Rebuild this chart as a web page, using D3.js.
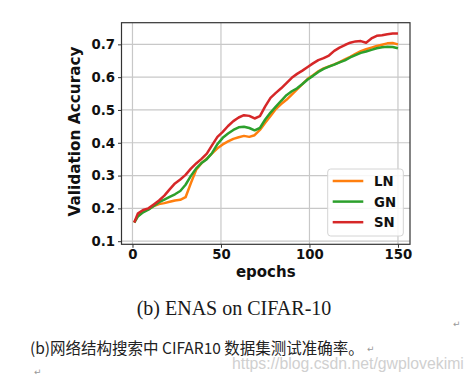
<!DOCTYPE html>
<html>
<head>
<meta charset="utf-8">
<script src="https://cdn.jsdelivr.net/npm/d3@7"></script>
<style>
  body { margin: 0; background: #fff; }
  svg { display: block; }
</style>
</head>
<body>
<script>

  // epochs sampled along the curves
  var epochs = [1, 3, 6, 9, 12, 15, 18, 21, 24, 27, 30, 33, 36, 39, 42, 45, 48, 51, 54, 57,
    60, 63, 66, 69, 72, 75, 78, 81, 84, 87, 90, 93, 96, 99, 102, 105, 108, 111, 114, 117,
    120, 123, 126, 129, 132, 135, 138, 141, 144, 147, 150];

  var lnAcc = [.157, .177, .190, .198, .207, .213, .216, .220, .224, .226, .234, .277, .318, .338, .352, .368, .383, .395, .404, .412,
    .417, .421, .418, .423, .439, .461, .482, .503, .518, .531, .547, .563, .579, .595, .606, .618, .627, .633, .639, .646,
    .654, .662, .671, .679, .685, .690, .695, .699, .703, .704, .700];

  var gnAcc = [.157, .175, .188, .196, .207, .219, .227, .235, .243, .253, .272, .299, .322, .338, .350, .369, .396, .415, .428, .439,
    .447, .449, .445, .438, .445, .471, .492, .510, .528, .545, .557, .566, .579, .593, .604, .616, .625, .632, .638, .645,
    .651, .660, .667, .674, .678, .683, .688, .691, .693, .692, .688];

  var snAcc = [.157, .184, .195, .200, .212, .224, .239, .258, .276, .288, .302, .321, .337, .351, .367, .393, .418, .433, .451, .466,
    .477, .484, .482, .474, .481, .511, .537, .552, .566, .582, .598, .610, .620, .631, .642, .652, .658, .666, .680, .690,
    .698, .705, .709, .710, .705, .718, .726, .728, .731, .733, .733];

  var seriesNames = ["LN", "GN", "SN"];
  var seriesColors = ["#ff7f0e", "#2ca02c", "#d62728"];
  var xTicks = [0, 50, 100, 150];
  var yTicks = [0.1, 0.2, 0.3, 0.4, 0.5, 0.6, 0.7];

  var series = [lnAcc, gnAcc, snAcc].map(function(vals, i) {
    return { name: seriesNames[i], color: seriesColors[i],
      values: vals.map(function(v, j) { return { e: epochs[j], v: v }; }) };
  });

  var svg = d3.select("body").append("svg")
      .attr("width", 472)
      .attr("height", 381);

  var plotL = 121.5, plotR = 410, plotT = 22.7, plotB = 244.3;

  var x = d3.scaleLinear().domain([-6.2, 156.8]).range([plotL, plotR]);
  var y = d3.scaleLinear().domain([0.0905, 0.766]).range([plotB, plotT]);

  // grid
  svg.append("g").selectAll("line").data(xTicks).enter().append("line")
    .attr("x1", function(d) { return x(d); }).attr("x2", function(d) { return x(d); })
    .attr("y1", plotT).attr("y2", plotB)
    .attr("stroke", "#c8c8c8").attr("stroke-width", 1.2);
  svg.append("g").selectAll("line").data(yTicks).enter().append("line")
    .attr("y1", function(d) { return y(d); }).attr("y2", function(d) { return y(d); })
    .attr("x1", plotL).attr("x2", plotR)
    .attr("stroke", "#c8c8c8").attr("stroke-width", 1.2);

  // axes
  var xAxis = svg.append("g")
    .attr("transform", "translate(0," + plotB + ")")
    .call(d3.axisBottom(x).tickValues(xTicks).tickSize(3.5).tickPadding(2).tickFormat(d3.format("d")));
  var yAxis = svg.append("g")
    .attr("transform", "translate(" + plotL + ",0)")
    .call(d3.axisLeft(y).tickValues(yTicks).tickSize(3.5).tickPadding(3).tickFormat(d3.format(".1f")));

  [xAxis, yAxis].forEach(function(a) {
    a.select(".domain").remove();
    a.selectAll("line").attr("stroke", "#333");
    a.selectAll("text")
      .attr("fill", "#111")
      .style("font-family", "'DejaVu Sans', sans-serif")
      .style("font-weight", "bold")
      .style("font-size", "13.3px");
  });

  // lines
  var line = d3.line()
    .x(function(d) { return x(d.e); })
    .y(function(d) { return y(d.v); });

  svg.append("g").selectAll("path").data(series).enter().append("path")
    .attr("d", function(d) { return line(d.values); })
    .attr("fill", "none")
    .attr("stroke", function(d) { return d.color; })
    .attr("stroke-width", 2.5)
    .attr("stroke-linejoin", "round");

  // frame
  svg.append("rect")
    .attr("x", plotL).attr("y", plotT)
    .attr("width", plotR - plotL).attr("height", plotB - plotT)
    .attr("fill", "none").attr("stroke", "#333").attr("stroke-width", 1.2);

  // legend
  var lg = svg.append("g");
  lg.append("rect")
    .attr("x", 327.7).attr("y", 169).attr("width", 75.6).attr("height", 67)
    .attr("rx", 3).attr("fill", "#fff").attr("fill-opacity", 0.85)
    .attr("stroke", "#d4d4d4").attr("stroke-width", 1);
  var items = lg.selectAll("g.item").data(series).enter().append("g")
    .attr("transform", function(d, i) { return "translate(0," + (181 + i * 20.6) + ")"; });
  items.append("line")
    .attr("x1", 332.7).attr("x2", 363.3)
    .attr("stroke", function(d) { return d.color; }).attr("stroke-width", 2.5);
  items.append("text")
    .attr("x", 374).attr("y", 5)
    .style("font-family", "'DejaVu Sans', sans-serif")
    .style("font-weight", "bold").style("font-size", "13.3px")
    .attr("fill", "#111")
    .text(function(d) { return d.name; });

  // axis labels
  svg.append("text")
    .attr("x", (plotL + plotR) / 2).attr("y", 277)
    .attr("text-anchor", "middle")
    .style("font-family", "'DejaVu Sans', sans-serif")
    .style("font-weight", "bold").style("font-size", "15px")
    .attr("fill", "#111")
    .text("epochs");
  svg.append("text")
    .attr("transform", "translate(80," + ((plotT + plotB) / 2 - 2) + ") rotate(-90)")
    .attr("text-anchor", "middle")
    .style("font-family", "'DejaVu Sans', sans-serif")
    .style("font-weight", "bold").style("font-size", "15.3px")
    .attr("fill", "#111")
    .text("Validation Accuracy");

  // document text around the figure
  svg.append("text")
    .attr("x", 234).attr("y", 315)
    .attr("text-anchor", "middle")
    .style("font-family", "'Liberation Serif', serif")
    .style("font-size", "20px")
    .attr("fill", "#1a1a1a")
    .text("(b) ENAS on CIFAR-10");

  svg.append("text")
    .attr("x", 30).attr("y", 354)
    .style("font-family", "'Noto Sans CJK SC', sans-serif")
    .style("font-size", "15.5px")
    .attr("fill", "#222")
    .text("(b)网络结构搜索中 CIFAR10 数据集测试准确率。");

  svg.append("text")
    .attr("x", 232).attr("y", 368.5)
    .style("font-family", "'Liberation Sans', sans-serif")
    .style("font-size", "15.8px")
    .attr("fill", "#d0d0d0")
    .text("https://blog.csdn.net/gwplovekimi");

  var marks = [[453, 327], [367, 352], [34, 375]];
  svg.selectAll("text.mark").data(marks).enter().append("text")
    .attr("class", "mark")
    .attr("x", function(d) { return d[0]; }).attr("y", function(d) { return d[1]; })
    .style("font-family", "'DejaVu Sans', sans-serif")
    .style("font-size", "9px")
    .attr("fill", "#999")
    .text("\u21b5");
</script>
</body>
</html>
